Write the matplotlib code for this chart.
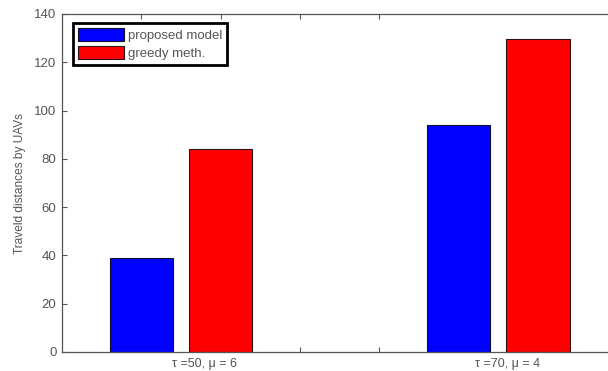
import matplotlib.pyplot as plt
import numpy as np

plt.rcParams['font.family'] = ['Liberation Sans', 'DejaVu Sans']

# data
groups = ['\u03c4 =50, \u03bc = 6', '\u03c4 =70, \u03bc = 4']
proposed = [39, 94]
greedy = [84, 129.5]
series_names = ['proposed model', 'greedy meth.']
yticks = [0, 20, 40, 60, 80, 100, 120, 140]

axis_col = '#555555'

fig = plt.figure(figsize=(6.08, 3.71), dpi=100)
ax = fig.add_axes([62 / 608, 19 / 371, 560 / 608, 338 / 371])

pos = np.array([1.0, 5.0])
w = 0.8
ax.bar(pos, proposed, w, color='#0000ff', edgecolor='#101030', linewidth=0.8,
       label=series_names[0], zorder=2)
ax.bar(pos + 1, greedy, w, color='#ff0000', edgecolor='#301010', linewidth=0.8,
       label=series_names[1], zorder=2)

ax.set_xlim(0, 560 / 79.3)
ax.set_ylim(0, 140)
ax.set_yticks(yticks)
ax.set_xticks([1, 2, 3, 4])
ax.set_xticklabels([])
ax.tick_params(axis='both', direction='in', length=3.5, width=0.8,
               colors=axis_col, labelsize=9.5, top=True, right=True)
ax.tick_params(axis='y', pad=4)
for s in ax.spines.values():
    s.set_color(axis_col)
    s.set_linewidth(0.9)

for x, g in zip([1.8, 5.62], groups):
    ax.text(x, -2.5, g, ha='center', va='top', fontsize=9, color=axis_col)

ax.set_ylabel('Traveld distances by UAVs', fontsize=8.6, color=axis_col, labelpad=6)

leg = ax.legend(loc='upper left', bbox_to_anchor=(0.0196, 0.973), fontsize=9.5,
                handlelength=3.5, handleheight=1.1, borderpad=0.4,
                labelspacing=0.3, handletextpad=0.25, fancybox=False,
                framealpha=1, borderaxespad=0)
leg.get_frame().set_edgecolor('black')
leg.get_frame().set_linewidth(2)
for t in leg.get_texts():
    t.set_color(axis_col)

fig.savefig('out.png', dpi=100)
